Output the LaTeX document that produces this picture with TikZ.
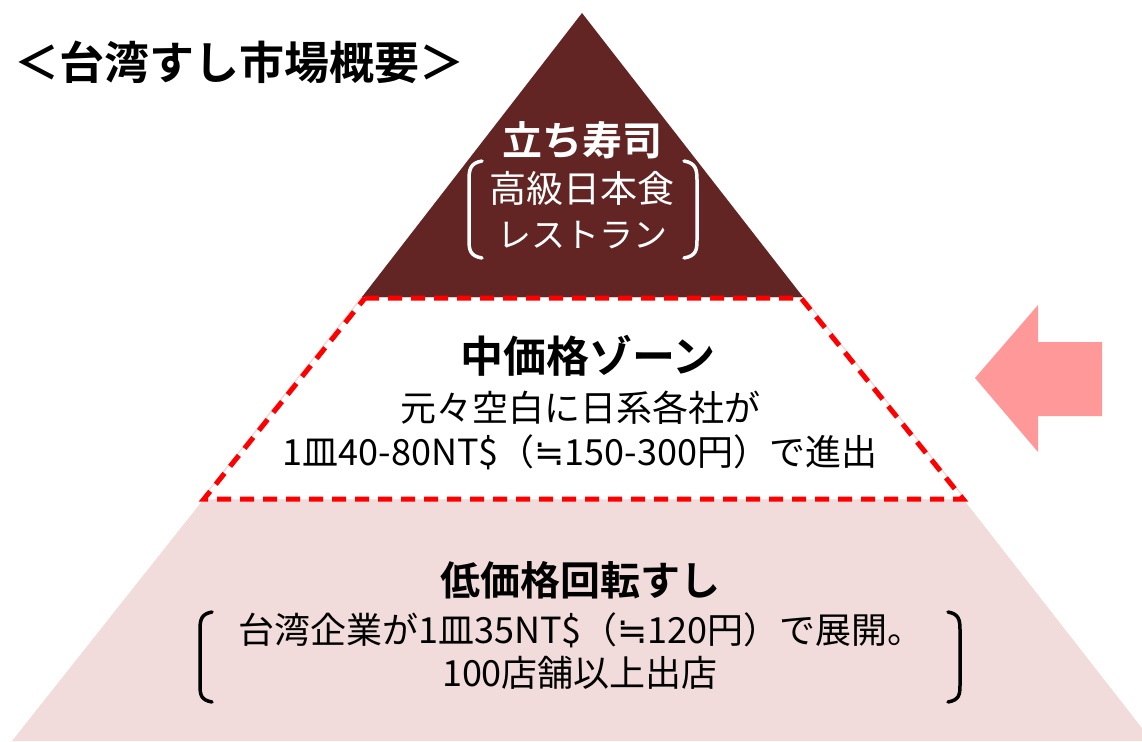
\documentclass[tikz,border=0pt]{standalone}
\usepackage{fontspec}
\newfontfamily\jp{Noto Sans CJK JP}
\newfontfamily\jpb{Noto Sans CJK JP Bold}
\newfontfamily\dv{DejaVu Sans}
\definecolor{maroon}{HTML}{632523}
\definecolor{palepink}{HTML}{F2DCDB}
\definecolor{arrowpink}{HTML}{FF9999}
\begin{document}
\begin{tikzpicture}[x=1pt,y=-1pt,
  whitetxt/.style={text=white,inner sep=0pt,align=center},
  blacktxt/.style={text=black,inner sep=0pt,align=center},
  brk/.style={line width=3.5pt,line cap=round}]
\useasboundingbox (0,0) rectangle (1142,741);
% bottom pink band
\fill[palepink] (203,500) -- (964,500) -- (1152,741) -- (12,741) -- cycle;
% middle band
\filldraw[fill=white,draw=palepink,line width=1.5pt] (362,297) -- (803,297) -- (966,500) -- (201,500) -- cycle;
% top triangle
\fill[maroon] (582,13) -- (803,297) -- (362,297) -- cycle;
% dashed outline
\draw[red,line width=5pt,dash pattern=on 14pt off 9pt] (365,298) -- (801,298) -- (963,499) -- (204,499) -- cycle;
% arrow
\fill[arrowpink] (975,378) -- (1038,305) -- (1038,342) -- (1102,342) -- (1102,416) -- (1038,416) -- (1038,452) -- cycle;
% title
\node[blacktxt,anchor=west] (title) at (14,62) {\fontsize{45}{50}\selectfont\jpb ＜台湾すし市場概要＞};
% top
\node[whitetxt] (top1) at (582,140) {\fontsize{40}{44}\selectfont\jpb 立ち寿司};
\node[whitetxt] (top2) at (582,188) {\fontsize{37}{40}\selectfont\jp 高級日本食};
\node[whitetxt] (top3) at (582,235) {\fontsize{34}{40}\selectfont\jp レストラン};
\draw[white,brk] (482,161) .. controls (470,163) and (469,170) .. (469,180) -- (469,240) .. controls (469,250) and (470,256) .. (482,258);
\draw[white,brk] (684,161) .. controls (696,163) and (697,170) .. (697,180) -- (697,240) .. controls (697,250) and (696,256) .. (684,258);
% middle
\node[blacktxt] (mid1) at (588,356) {\fontsize{43}{46}\selectfont\jpb 中価格ゾーン};
\node[blacktxt] (mid2) at (580,408) {\fontsize{36}{40}\selectfont\jp 元々空白に日系各社が};
\node[blacktxt] (mid3) at (580,452) {\fontsize{36}{40}\selectfont\jp 1皿40-80NT\$（{\dv ≒}150-300円）で進出};
% bottom
\node[blacktxt] (bot1) at (580,580) {\fontsize{40}{44}\selectfont\jpb 低価格回転すし};
\node[blacktxt] (bot2) at (581,630) {\fontsize{36}{40}\selectfont\jp 台湾企業が1皿35NT\$（{\dv ≒}120円）で展開。};
\node[blacktxt] (bot3) at (580,673) {\fontsize{36}{40}\selectfont\jp 100店舗以上出店};
\draw[black,brk] (212,612) .. controls (201,614) and (200,620) .. (200,630) -- (200,685) .. controls (200,695) and (201,700) .. (212,702);
\draw[black,brk] (948,612) .. controls (959,614) and (960,620) .. (960,630) -- (960,685) .. controls (960,695) and (959,700) .. (948,702);
\end{tikzpicture}
\end{document}
